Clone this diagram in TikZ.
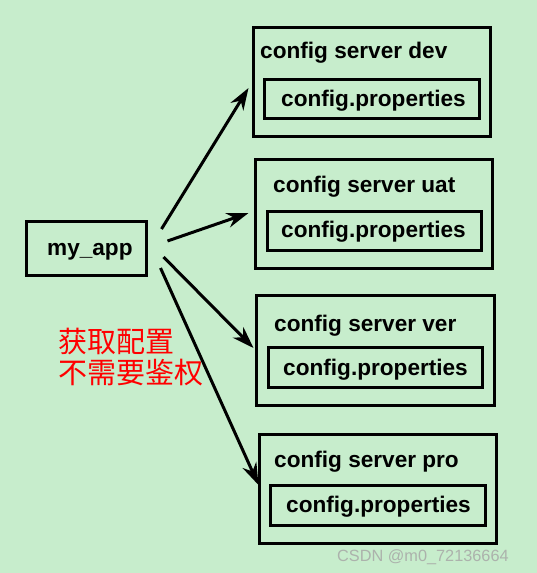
\documentclass[tikz,border=0pt]{standalone}
\usepackage{fontspec}
\setmainfont{Liberation Sans}
\newfontfamily\cjk{Noto Sans CJK SC}
\usetikzlibrary{arrows.meta,shadows}
\definecolor{bg}{HTML}{C7EDCC}
\definecolor{wm}{RGB}{172,178,172}
\begin{document}
\begin{tikzpicture}[x=1pt,y=-1pt,
  box/.style={draw=black,fill=bg,line width=3pt,inner sep=0pt,
    drop shadow={opacity=0.3,shadow xshift=1.5pt,shadow yshift=-1.5pt}},
  txt/.style={anchor=base west,inner sep=0pt,font=\fontsize{22.6pt}{25pt}\selectfont\bfseries,text=black},
  arr/.style={line width=3pt,-{Stealth[length=22pt,width=15pt]}}]
\fill[bg] (0,0) rectangle (537,573);
\useasboundingbox (0,0) rectangle (537,573);
% app
\node[box,minimum width=120pt,minimum height=54pt] (app) at (86.5,248.5) {};
% dev
\node[box,minimum width=237pt,minimum height=109pt] (dev) at (372,82) {};
\node[box,minimum width=215pt,minimum height=39pt] (devp) at (372,99) {};
% uat
\node[box,minimum width=237pt,minimum height=109pt] (uat) at (374,214) {};
\node[box,minimum width=214pt,minimum height=39pt] (uatp) at (374.5,231) {};
% ver
\node[box,minimum width=238pt,minimum height=110pt] (ver) at (375.5,350.5) {};
\node[box,minimum width=214pt,minimum height=40pt] (verp) at (375.5,367.5) {};
% pro
\node[box,minimum width=237pt,minimum height=109pt] (pro) at (378,489) {};
\node[box,minimum width=215pt,minimum height=40pt] (prop) at (378,505.5) {};
% texts
\node[txt] (tapp) at (47,255) {my\_app};
\node[txt] (tdev) at (260,58) {config server dev};
\node[txt] (tdevp) at (281,106) {config.properties};
\node[txt] (tuat) at (273,192) {config server uat};
\node[txt] (tuatp) at (281,237) {config.properties};
\node[txt] (tver) at (274,331) {config server ver};
\node[txt] (tverp) at (283,375) {config.properties};
\node[txt] (tpro) at (274,467) {config server pro};
\node[txt] (tprop) at (286,512) {config.properties};
% arrows
\draw[arr] ([shift={(13.5,-19.5)}]app.east) -- ([shift={(-3.5,6)}]dev.west);
\draw[arr] ([shift={(19.5,-7.5)}]app.east) -- ([shift={(-5.5,-1)}]uat.west);
\draw[arr] ([shift={(15.5,8.5)}]app.east) -- ([shift={(-1.5,-2.5)}]ver.west);
\draw[arr] ([shift={(12.5,19.5)}]app.east) -- ([shift={(0.5,-4)}]pro.west);
% chinese note
\node[anchor=north west,inner sep=0pt,align=left,text=red,
  font=\cjk\fontsize{29pt}{31pt}\selectfont] (note) at (58.5,328) {获取配置\\不需要鉴权};
% watermark
\node[anchor=base west,inner sep=0pt,text=wm,font=\fontsize{16.3pt}{18pt}\selectfont] (wmk) at (337,561) {CSDN @m0\_72136664};
\end{tikzpicture}
\end{document}
